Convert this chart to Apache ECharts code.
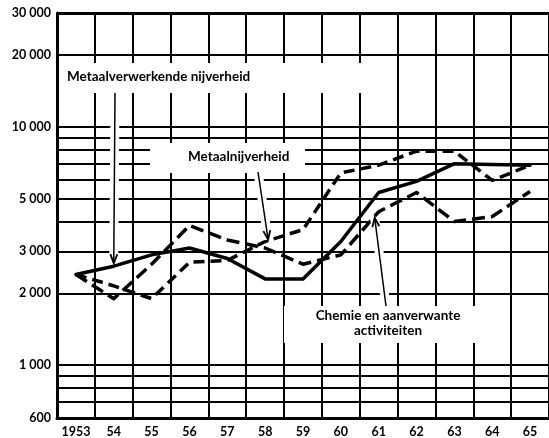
<!DOCTYPE html>
<html>
<head>
<meta charset="utf-8">
<script src="https://cdn.jsdelivr.net/npm/echarts@6/dist/echarts.min.js"></script>
<style>
  html, body { margin: 0; padding: 0; background: #fff; }
  #chart { width: 549px; height: 438px; }
</style>
</head>
<body>
<div id="chart"></div>
<script>
// Years on the horizontal axis
const years = ['1953', '54', '55', '56', '57', '58', '59', '60', '61', '62', '63', '64', '65'];

// Index series (log scale)
const metaalverwerkende = [2400, 2600, 2900, 3100, 2800, 2300, 2300, 3300, 5300, 5900, 7000, 6950, 6900];
const metaalnijverheid  = [2400, 2150, 1900, 2700, 2750, 3300, 3700, 6400, 6900, 7900, 7900, 5950, 6900];
const chemie            = [2400, 1900, 2650, 3850, 3350, 3100, 2650, 2900, 4400, 5300, 4000, 4200, 5350];

// Horizontal rules on the log axis and the ones that carry a label
const gridValues  = [600, 700, 800, 900, 1000, 2000, 3000, 4000, 5000, 6000, 7000, 8000, 9000, 10000, 20000, 30000];
const labelValues = [600, 1000, 2000, 3000, 5000, 10000, 20000, 30000];

const FONT = 'Lato, "Open Sans", sans-serif';
const fmt = v => String(v).replace(/\B(?=(\d{3})+(?!\d))/g, ' ');

const chart = echarts.init(document.getElementById('chart'), null, { renderer: 'canvas' });

const option = {
  animation: false,
  backgroundColor: '#fff',
  grid: { left: 57, top: 13, width: 497, height: 406, containLabel: false },
  xAxis: {
    type: 'category',
    data: years,
    boundaryGap: true,
    axisLine: { lineStyle: { color: '#000', width: 3 } },
    axisTick: { show: false },
    axisLabel: { color: '#000', fontFamily: FONT, fontWeight: 'bold', fontSize: 12.5, margin: 7, interval: 0 },
    splitLine: { show: true, interval: 0, lineStyle: { color: '#000', width: 2 } }
  },
  yAxis: {
    type: 'log',
    logBase: 10,
    min: 600,
    max: 30000,
    axisLine: { show: true, lineStyle: { color: '#000', width: 3 } },
    axisTick: { show: false },
    axisLabel: { show: false },
    splitLine: { show: false }
  },
  series: [
    {
      // horizontal rules + y labels
      type: 'line',
      data: [],
      z: 1,
      silent: true,
      markLine: {
        silent: true,
        symbol: 'none',
        animation: false,
        lineStyle: { color: '#000', width: 2, type: 'solid' },
        data: gridValues.map(v => ({
          yAxis: v,
          lineStyle: { width: v === 30000 ? 3 : 2 },
          label: {
            show: labelValues.includes(v),
            position: 'start',
            distance: 6,
            formatter: fmt(v),
            color: '#000',
            fontFamily: FONT,
            fontWeight: 'bold',
            fontSize: 12.5
          }
        }))
      }
    },
    {
      name: 'Metaalverwerkende nijverheid',
      type: 'line',
      data: metaalverwerkende,
      z: 5,
      symbol: 'none',
      lineStyle: { color: '#000', width: 3.5, type: 'solid', cap: 'round', join: 'round' }
    },
    {
      name: 'Metaalnijverheid',
      type: 'line',
      data: metaalnijverheid,
      z: 5,
      symbol: 'none',
      lineStyle: { color: '#000', width: 3.5, type: [11, 6], join: 'round' }
    },
    {
      name: 'Chemie en aanverwante activiteiten',
      type: 'line',
      data: chemie,
      z: 5,
      symbol: 'none',
      lineStyle: { color: '#000', width: 3.5, type: [13, 6], join: 'round' }
    }
  ]
};

chart.setOption(option);

// Annotation arrows point at values on their series
function px(seriesIndex, idx, value) {
  return chart.convertToPixel({ seriesIndex: seriesIndex }, [idx, value]);
}

function arrow(from, to) {
  const dx = to[0] - from[0], dy = to[1] - from[1];
  const len = Math.sqrt(dx * dx + dy * dy);
  const ux = dx / len, uy = dy / len;
  const hl = 9, hw = 3.5;
  const bx = to[0] - ux * hl, by = to[1] - uy * hl;
  const p1 = [bx - uy * hw, by + ux * hw];
  const p2 = [bx + uy * hw, by - ux * hw];
  return [
    { type: 'line', z: 50, shape: { x1: from[0], y1: from[1], x2: to[0], y2: to[1] },
      style: { stroke: '#fff', lineWidth: 9 } },
    { type: 'line', z: 60, shape: { x1: from[0], y1: from[1], x2: to[0], y2: to[1] },
      style: { stroke: '#000', lineWidth: 1.5 } },
    { type: 'polyline', z: 60, shape: { points: [p1, to, p2] },
      style: { stroke: '#000', lineWidth: 1.8, fill: null } }
  ];
}

const tip1 = px(1, 1, metaalverwerkende[1]);
const tip2 = px(2, 5, metaalnijverheid[5]);
const tip3 = px(3, 8, chemie[8]);

const textStyle = { fill: '#000', font: 'bold 13.5px ' + FONT };

chart.setOption({
  graphic: [
    // label boxes
    { type: 'rect', z: 40, shape: { x: 59, y: 63, width: 310, height: 30 }, style: { fill: '#fff' } },
    { type: 'rect', z: 40, shape: { x: 150, y: 143, width: 155, height: 30 }, style: { fill: '#fff' } },
    { type: 'rect', z: 40, shape: { x: 284, y: 306, width: 195, height: 37 }, style: { fill: '#fff' } },
    { type: 'text', z: 70, x: 67, y: 77, style: Object.assign({ text: 'Metaalverwerkende nijverheid', textVerticalAlign: 'middle' }, textStyle) },
    { type: 'text', z: 70, x: 188, y: 157, style: Object.assign({ text: 'Metaalnijverheid', textVerticalAlign: 'middle' }, textStyle) },
    { type: 'text', z: 70, x: 388, y: 316, style: Object.assign({ text: 'Chemie en aanverwante', textAlign: 'center', textVerticalAlign: 'middle' }, textStyle) },
    { type: 'text', z: 70, x: 388, y: 331, style: Object.assign({ text: 'activiteiten', textAlign: 'center', textVerticalAlign: 'middle' }, textStyle) }
  ]
    .concat(arrow([115, 93], [tip1[0], tip1[1] - 3]))
    .concat(arrow([258, 172], [tip2[0] + 3, tip2[1] - 2]))
    .concat(arrow([386, 306], [tip3[0] - 4, tip3[1] + 6]))
});
</script>
</body>
</html>
